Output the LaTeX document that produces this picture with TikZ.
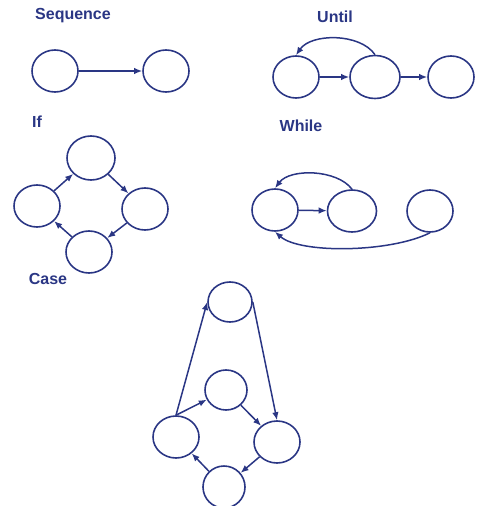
\documentclass[tikz,border=0pt]{standalone}
\usepackage{fontspec}
\setmainfont{Liberation Sans}
\usetikzlibrary{shapes.geometric, arrows.meta}
\definecolor{inkblue}{RGB}{42,54,132}

\begin{document}
\begin{tikzpicture}[
    x=1pt, y=-1pt,
    state/.style={draw=inkblue, ellipse, line width=1.6pt, minimum width=46pt, minimum height=42pt, inner sep=0pt},
    title/.style={text=inkblue, font=\fontsize{16}{18}\selectfont\bfseries},
    flow/.style={draw=inkblue, line width=1.5pt, -{Latex[length=8pt,width=6.5pt]}}
]
\useasboundingbox (0,0) rectangle (478,506);

\node[title] (tseq) at (73,16) {Sequence};
\node[state] (s1) at (55,71) {};
\node[state] (s2) at (166,71) {};
\draw[flow] (s1) -- (s2);

\node[title] (tuntil) at (335,17) {Until};
\node[state] (u1) at (296,77) {};
\node[state, minimum width=50pt, minimum height=43pt] (u2) at (375,77) {};
\node[state] (u3) at (451,77) {};
\draw[flow] (u1) -- (u2);
\draw[flow] (u2) -- (u3);
\draw[flow] (u2.north) .. controls +(-15,-22) and +(15,-22) .. (u1.north);

\node[title] (tif) at (37,122) {If};
\node[state, minimum width=48pt, minimum height=44pt] (i1) at (91,158) {};
\node[state] (i2) at (145,209) {};
\node[state] (i3) at (89,252) {};
\node[state] (i4) at (37,206) {};
\draw[flow] (i4) -- (i1);
\draw[flow] (i1) -- (i2);
\draw[flow] (i2) -- (i3);
\draw[flow] (i3) -- (i4);

\node[title] (twhile) at (301,126) {While};
\node[state] (w1) at (275,210) {};
\node[state, minimum width=49pt] (w2) at (352,211) {};
\node[state] (w3) at (430,211) {};
\draw[flow] (w1) -- (w2);
\draw[flow] (w2.north) .. controls +(-15,-20) and +(15,-20) .. (w1.north);
\draw[flow] (w3.south) .. controls +(-40,20) and +(25,22) .. (w1.south);

\node[title] (tcase) at (48,279) {Case};
\node[state, minimum width=44pt, minimum height=40pt] (c1) at (230,302) {};
\node[state, minimum width=42pt, minimum height=40pt] (c2) at (226,390) {};
\node[state] (c3) at (277,442) {};
\node[state, minimum width=42pt] (c4) at (224,487) {};
\node[state] (c5) at (176,437) {};
\draw[flow] (c5.north) -- (c1.west);
\draw[flow] (c5.north) -- (c2);
\draw[flow] (c1.east) -- (c3.north);
\draw[flow] (c2) -- (c3);
\draw[flow] (c3) -- (c4);
\draw[flow] (c4) -- (c5);
\end{tikzpicture}
\end{document}
